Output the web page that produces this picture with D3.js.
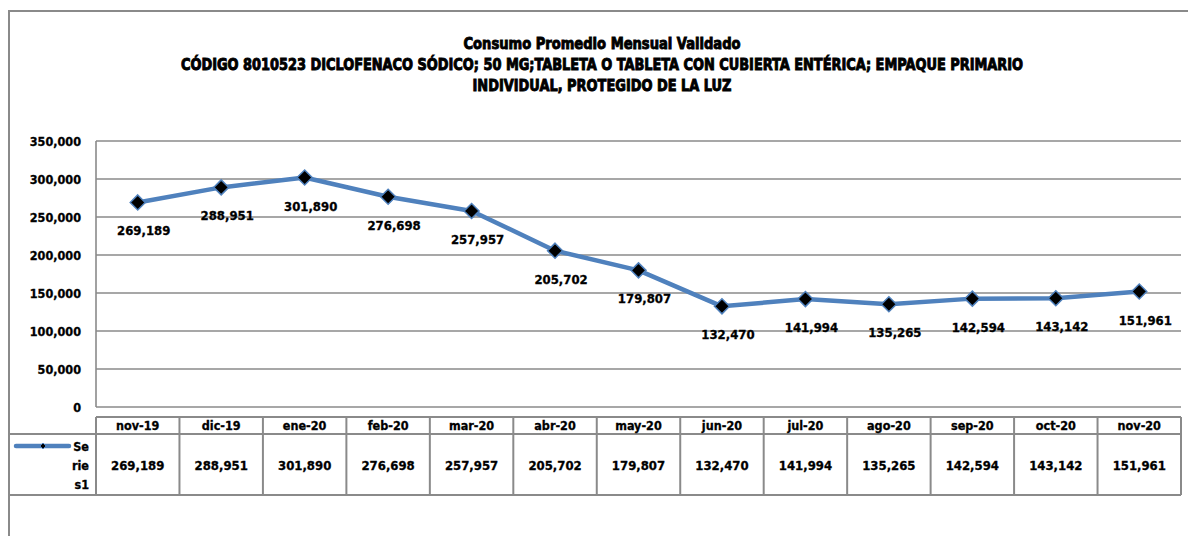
<!DOCTYPE html>
<html><head><meta charset="utf-8">
<script src="https://cdn.jsdelivr.net/npm/d3@7"></script>
<style>
body{margin:0;background:#fff}
svg text{font-family:"DejaVu Sans Condensed","DejaVu Sans",sans-serif;font-weight:bold;fill:#000;stroke:#000;stroke-width:0.3px}
</style>
</head><body>
<svg id="c" width="1188" height="536"></svg>
<script>
const categories = ["nov-19","dic-19","ene-20","feb-20","mar-20","abr-20","may-20","jun-20","jul-20","ago-20","sep-20","oct-20","nov-20"];
const values = [269189,288951,301890,276698,257957,205702,179807,132470,141994,135265,142594,143142,151961];
const yTicks = [0,50000,100000,150000,200000,250000,300000,350000];
const seriesName = "Series1";
const legendLines = ["Se","rie","s1"];
const titleLines = [
  "Consumo Promedio Mensual Validado",
  "CÓDIGO 8010523 DICLOFENACO SÓDICO; 50 MG;TABLETA O TABLETA CON CUBIERTA ENTÉRICA; EMPAQUE PRIMARIO",
  "INDIVIDUAL, PROTEGIDO DE LA LUZ"
];

const svg = d3.select("#c");
const W = 1188, H = 536;
const plot = {l:96, r:1181, t:141, b:407};
const grid = "#8a8a8a";
const blue = "#4F81BD";
const fmt = d3.format(",");

// outer border
svg.append("rect").attr("x",9).attr("y",11).attr("width",W).attr("height",H)
  .attr("fill","none").attr("stroke",grid).attr("stroke-width",2);

// title
const tLen = [277, 842, 259];
const tY = [49, 70, 91];
titleLines.forEach((t,i)=>{
  svg.append("text").attr("x",602).attr("y",tY[i]).attr("text-anchor","middle")
    .attr("font-size",16).attr("textLength",tLen[i]).attr("lengthAdjust","spacingAndGlyphs")
    .style("stroke-width","0.9px")
    .text(t);
});

const x = d3.scaleBand().domain(categories).range([plot.l, plot.r]);
const y = d3.scaleLinear().domain([0,350000]).range([plot.b, plot.t]);

// gridlines
svg.append("g").selectAll("line").data(yTicks).join("line")
  .attr("x1",plot.l).attr("x2",plot.r).attr("y1",d=>y(d)).attr("y2",d=>y(d))
  .attr("stroke",grid).attr("stroke-width",1.6);
svg.append("line").attr("x1",plot.l).attr("x2",plot.l).attr("y1",plot.t).attr("y2",plot.b)
  .attr("stroke",grid).attr("stroke-width",1.6);

// y axis labels
const yAxis = d3.axisLeft(y).tickValues(yTicks).tickFormat(fmt).tickSize(0).tickPadding(15);
const ya = svg.append("g").attr("transform",`translate(${plot.l},0)`).call(yAxis);
ya.select(".domain").remove();
ya.selectAll("text").attr("font-size",12.5).attr("font-family",null).attr("dy","0.35em");

// line
const cx = d => x(d) + x.bandwidth()/2;
const line = d3.line().x((d,i)=>cx(categories[i])).y(d=>y(d));
svg.append("path").datum(values).attr("d",line).attr("fill","none")
  .attr("stroke",blue).attr("stroke-width",4.5).attr("stroke-linejoin","round");

// markers
const dia = "M0,-7.5L7.5,0L0,7.5L-7.5,0Z";
svg.append("g").selectAll("path").data(values).join("path")
  .attr("d",dia).attr("transform",(d,i)=>`translate(${cx(categories[i])},${y(d)})`)
  .attr("fill","#000").attr("stroke",blue).attr("stroke-width",1.5);

// data labels
svg.append("g").selectAll("text").data(values).join("text")
  .attr("x",(d,i)=>cx(categories[i])+6).attr("y",d=>y(d)+33)
  .attr("text-anchor","middle").attr("font-size",13).text(d=>fmt(d));

// data table
const tTop = 417, tMid = 434, tBot = 495;
const tg = svg.append("g");
tg.append("line").attr("x1",plot.l).attr("x2",plot.r).attr("y1",tTop).attr("y2",tTop).attr("stroke",grid).attr("stroke-width",2);
tg.append("line").attr("x1",9).attr("x2",plot.r).attr("y1",tMid).attr("y2",tMid).attr("stroke",grid).attr("stroke-width",2);
tg.append("line").attr("x1",9).attr("x2",plot.r).attr("y1",tBot).attr("y2",tBot).attr("stroke",grid).attr("stroke-width",2);
const bounds = categories.map(c=>x(c)).concat([plot.r]);
tg.selectAll("line.v").data(bounds).join("line").attr("class","v")
  .attr("x1",d=>d).attr("x2",d=>d).attr("y1",tTop).attr("y2",tBot).attr("stroke",grid).attr("stroke-width",2);
tg.selectAll("text.h").data(categories).join("text").attr("class","h")
  .attr("x",d=>cx(d)).attr("y",(tTop+tMid)/2+4.5).attr("text-anchor","middle").attr("font-size",12.5).text(d=>d);
tg.selectAll("text.v").data(values).join("text").attr("class","v")
  .attr("x",(d,i)=>cx(categories[i])).attr("y",469.5).attr("text-anchor","middle").attr("font-size",13).text(d=>fmt(d));

// legend key in table
const ly = 446;
tg.append("line").attr("x1",16).attr("x2",69).attr("y1",ly).attr("y2",ly)
  .attr("stroke",blue).attr("stroke-width",4.5).attr("stroke-linecap","round");
tg.append("path").attr("d","M0,-3L3,0L0,3L-3,0Z").attr("transform",`translate(43,${ly})`)
  .attr("fill","#000").attr("stroke",blue).attr("stroke-width",1);
tg.selectAll("text.lg").data(legendLines).join("text").attr("class","lg")
  .attr("x",89).attr("y",(d,i)=>ly+5+i*19).attr("text-anchor","end").attr("font-size",12.5).text(d=>d);
</script>
</body></html>
